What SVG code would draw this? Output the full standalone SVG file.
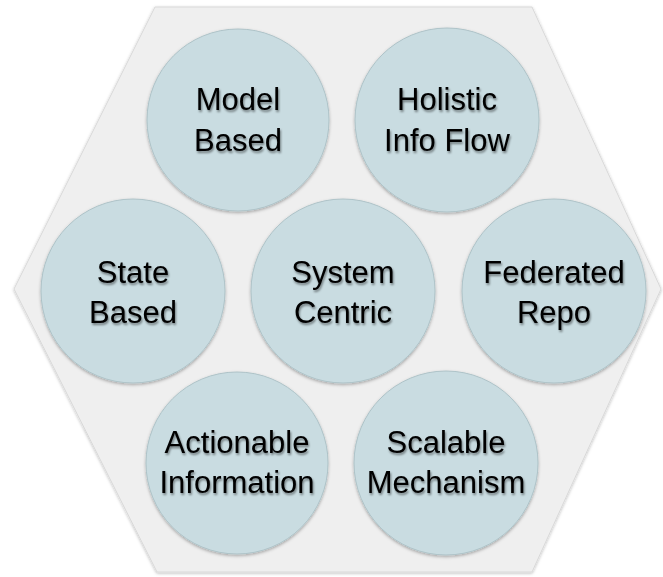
<svg xmlns="http://www.w3.org/2000/svg" width="663" height="577" viewBox="0 0 663 577">
  <defs>
    <filter id="hexShadow" x="-5%" y="-5%" width="110%" height="110%">
      <feDropShadow dx="0" dy="1" stdDeviation="1.5" flood-color="#000" flood-opacity="0.25"/>
    </filter>
    <filter id="circShadow" x="-10%" y="-10%" width="120%" height="120%">
      <feDropShadow dx="0" dy="1.5" stdDeviation="1.5" flood-color="#000" flood-opacity="0.3"/>
    </filter>
    <filter id="txtShadow" x="-10%" y="-20%" width="120%" height="150%">
      <feDropShadow dx="1" dy="2" stdDeviation="1.3" flood-color="#000" flood-opacity="0.45"/>
    </filter>
  </defs>
  <style>
    .hex { fill: #efefef; stroke: #d9d9d9; stroke-width: 1; }
    .node circle { fill: #c9dce1; stroke: #aec3c8; stroke-width: 1; }
    .node text { font-family: "Liberation Sans", Arial, sans-serif; font-size: 31px; fill: #000; text-anchor: middle; }
  </style>
  <rect width="663" height="577" fill="#ffffff"/>
  <g id="background">
    <polygon class="hex" filter="url(#hexShadow)" points="155,7 532,7 661,289 532,572 157,572 14,289"/>
  </g>
  <g id="connectors"/>
  <g id="model-based" class="node">
    <circle cx="238" cy="120" r="91" filter="url(#circShadow)"/>
    <g filter="url(#txtShadow)">
      <text x="238" y="110">Model</text>
      <text x="238" y="151">Based</text>
    </g>
  </g>
  <g id="holistic-info-flow" class="node">
    <circle cx="447" cy="120" r="92" filter="url(#circShadow)"/>
    <g filter="url(#txtShadow)">
      <text x="447" y="110">Holistic</text>
      <text x="447" y="151">Info Flow</text>
    </g>
  </g>
  <g id="state-based" class="node">
    <circle cx="133" cy="291" r="92" filter="url(#circShadow)"/>
    <g filter="url(#txtShadow)">
      <text x="133" y="283">State</text>
      <text x="133" y="323">Based</text>
    </g>
  </g>
  <g id="system-centric" class="node">
    <circle cx="343" cy="291" r="92" filter="url(#circShadow)"/>
    <g filter="url(#txtShadow)">
      <text x="343" y="283">System</text>
      <text x="343" y="323">Centric</text>
    </g>
  </g>
  <g id="federated-repo" class="node">
    <circle cx="554" cy="291" r="92" filter="url(#circShadow)"/>
    <g filter="url(#txtShadow)">
      <text x="554" y="283">Federated</text>
      <text x="554" y="323">Repo</text>
    </g>
  </g>
  <g id="actionable-information" class="node">
    <circle cx="237" cy="463" r="91" filter="url(#circShadow)"/>
    <g filter="url(#txtShadow)">
      <text x="237" y="453">Actionable</text>
      <text x="237" y="493">Information</text>
    </g>
  </g>
  <g id="scalable-mechanism" class="node">
    <circle cx="446" cy="463" r="92" filter="url(#circShadow)"/>
    <g filter="url(#txtShadow)">
      <text x="446" y="453">Scalable</text>
      <text x="446" y="493">Mechanism</text>
    </g>
  </g>
</svg>
